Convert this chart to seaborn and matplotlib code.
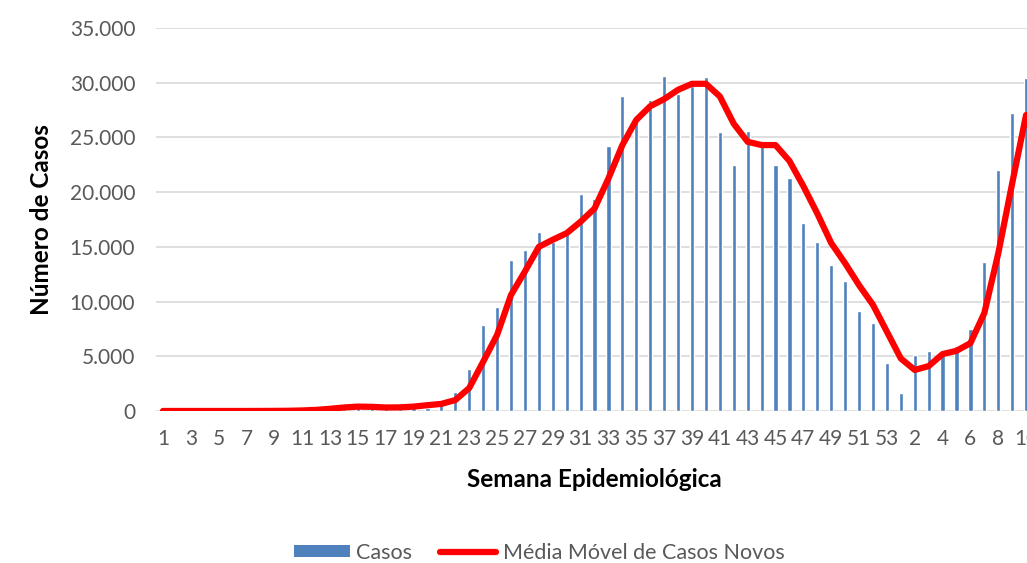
import matplotlib
matplotlib.use("Agg")
import matplotlib.pyplot as plt
from matplotlib.patches import Patch
from matplotlib.lines import Line2D
from matplotlib.ticker import FuncFormatter
import seaborn as sns
import pandas as pd

# Epidemiological weeks: 1-53 of the first year, then 1-10 of the next
semanas = list(range(1, 54)) + list(range(1, 11))
anos = [2020] * 53 + [2021] * 10

casos = [
    0, 0, 0, 0, 0, 0, 0, 2, 5, 10,
    60, 120, 230, 350, 480, 380, 300, 320, 420, 300,
    550, 1760, 3850, 7900, 9500, 13800, 14750, 16350, 15450, 16200,
    19850, 19400, 24200, 28800, 26600, 28400, 30600, 29000, 29700, 30550,
    25500, 22500, 25600, 24700, 22500, 21300, 17200, 15400, 13300, 11900,
    9100, 8000, 4400,
    1650, 5150, 5450, 5300, 5950, 7500, 13600, 22000, 27200, 30400,
]

media_movel = [
    0, 0, 0, 0, 0, 0, 0, 5, 10, 20,
    50, 100, 200, 320, 400, 380, 320, 330, 400, 530,
    650, 1000, 2100, 4500, 6950, 10600, 12750, 15000, 15650, 16250,
    17300, 18500, 21250, 24300, 26600, 27850, 28500, 29350, 29900, 29900,
    28750, 26250, 24600, 24300, 24300, 22850, 20550, 18050, 15350, 13500,
    11500, 9700, 7250,
    4800, 3750, 4100, 5200, 5500, 6200, 8950, 14400, 20800, 27050,
]

df = pd.DataFrame({
    "chave": [f"{a}-{s:02d}" for a, s in zip(anos, semanas)],
    "semana": semanas,
    "casos": casos,
    "media": media_movel,
})
df["pos"] = range(len(df))

sns.set_theme(style="white")
plt.rcParams["font.family"] = ["Lato", "DejaVu Sans"]

AZUL = "#4F81BD"
VERMELHO = "#FF0000"
CINZA_TXT = "#595959"

fig = plt.figure(figsize=(10.27, 5.63), dpi=100)
ax = fig.add_axes([0.1519, 0.27, 0.854, 0.6803])

sns.barplot(data=df, x="chave", y="casos", color=AZUL, width=0.3,
            saturation=1, ax=ax, order=df["chave"].tolist())
sns.lineplot(data=df, x="pos", y="media", color=VERMELHO, linewidth=4.5,
             ax=ax, sort=False)
for ln in ax.get_lines():
    ln.set_solid_capstyle("round")
    ln.set_solid_joinstyle("round")

ax.set_xlim(-0.5, 62.5)
ax.set_ylim(0, 35000)
ax.set_yticks(range(0, 35001, 5000))
ax.yaxis.set_major_formatter(FuncFormatter(lambda v, _: f"{int(v):,}".replace(",", ".")))

ax.set_xticks(df["pos"][::2])
ax.set_xticklabels([str(s) for s in df["semana"][::2]])

ax.grid(axis="y", color="#D9D9D9", linewidth=1.2)
ax.set_axisbelow(True)
for sp in ax.spines.values():
    sp.set_visible(False)
ax.tick_params(axis="both", length=0, labelsize=15, labelcolor=CINZA_TXT)
ax.tick_params(axis="y", pad=15)
ax.tick_params(axis="x", pad=13)

ax.set_xlabel("Semana Epidemiológica", fontsize=17.5, fontweight="bold",
              color="black", labelpad=14)
ax.set_ylabel("Número de Casos", fontsize=17.5, fontweight="bold",
              color="black", labelpad=12)

handles = [
    Patch(facecolor=AZUL, edgecolor="none"),
    Line2D([0], [0], color=VERMELHO, linewidth=4.5, solid_capstyle="round"),
]
fig.legend(handles, ["Casos", "Média Móvel de Casos Novos"], loc="center",
           bbox_to_anchor=(0.525, 0.018), ncol=2, frameon=False, fontsize=15.5,
           labelcolor=CINZA_TXT, handlelength=2.6, handleheight=0.5,
           handletextpad=0.3, columnspacing=1.3)

fig.savefig("out.png", dpi=100)
